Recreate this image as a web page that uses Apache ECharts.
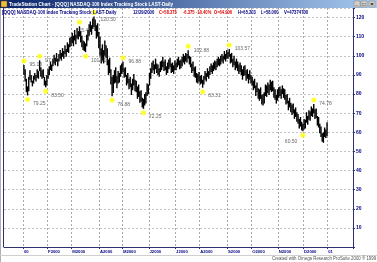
<!DOCTYPE html>
<html><head><meta charset="utf-8">
<script src="https://cdn.jsdelivr.net/npm/echarts@6/dist/echarts.min.js"></script>
<style>html,body{margin:0;padding:0;background:#fff;overflow:hidden}#c{width:377px;height:262px}</style>
</head><body><div id="c"></div><script>
// ---- data (QQQ daily, 2000): highs and lows per session ----
const highs = [
// Jan
95.13,93,88,84,89,92.5,90,87,89.5,91,90,93,92,97.63,94,92.5,93,89,87,90,
// Feb
93,94.5,97,95.5,98.5,100.5,99,101.5,98.5,101,103,101.5,104,102.5,105.5,103.5,107,106,109.5,110,
// Mar
112,110.5,113.5,111,114.5,113,115.41,113,110.5,108,107.5,106.5,111,113.5,116.5,118,116,119.5,120.5,119,116,117,112.5,
// Apr
110,104,106,103,108,105.5,104,98,99,93,89,90,92.5,94,89.5,92,91,95,96,
// May
96.88,93.5,94,90,91,88,89,85.5,88,90.5,87.5,87,84,85,81.5,82,78,77.5,80,81,85.5,85,
// Jun
91,93.5,96.5,97.5,95.5,98.5,96,95.5,93.5,97,97.5,99.5,97,98,94.5,96.5,98,99,96,96.5,95,97.5,
// Jul
96.5,98.5,99.5,97.5,98,99.5,101,100,101.5,101,102.88,100,99.5,96,97,94,94.5,91,90.5,91.5,
// Aug
89.5,90,87.5,89.5,92,91,93.5,92,94.5,96,95,96.5,97.5,97,98.5,99.5,98.5,100,101,100,102.5,101,103,
// Sep
102,103.57,101,101.5,98.5,100,97,98.5,97,95.5,96.5,95,93,94.5,95,92.5,93,90.5,92.5,90,
// Oct
89,87,88,84.5,86,83,82.5,83.5,79.5,80,81,85,84.5,86,85,87.5,86.5,87,83.5,82.5,79.5,82.5,
// Nov
83.5,84,82.5,84.5,83,82.5,79.5,80,76.5,78,75.5,74.5,75,72,73,70.5,69.5,67,68,65.5,64.5,
// Dec
67,66.5,70.5,68.5,71.5,71,73.5,72.5,74.78,72,72.5,68.5,68,64.5,63,59.5,60,62.5,61.5,65.203
];
const lows = [
90,86.5,81,79.25,81.5,87.5,86,84,85.5,87.5,86.5,88.5,88,92,89,88,88.5,84.5,83.5,84.5,
88,90,92.5,92,94.5,96,95,97,94.5,97,98.5,97.5,99.5,98.5,101,99.5,102,101.5,104.5,105,
106.5,105,108,106,109,108.5,110,107,104.5,103,102.5,101.91,105,108,110.5,112.5,111,114,115,113,109,110,104,
100,96,97.5,96,100,99,95,90,91,85,78.88,80.5,85.5,86,83,85.5,86,89,90.5,
91.5,88.5,89,84.5,85.5,82.5,83.5,79.5,82,84.5,81.5,81,77.5,78.5,75.5,76,73,72.25,74,75,79,80,
84.5,88,91,92.5,90.5,93,91,90,89,91.5,92.5,94,92,92.5,90,91,93,94,91,91.5,90.5,92.5,
92.5,94,95,93,93.5,94.5,96.5,95.5,97,96.5,98.5,95.5,94,91,92,89,88.5,86,85.5,86.5,
85,85.5,83.31,85,87.5,86.5,89,88,90,91.5,90.5,92,93,92.5,94,95,94.5,95.5,97,96,98,97,98.5,
98.5,99.5,96,96.5,94,95,92.5,93.5,92,90.5,91.5,90,87.5,89.5,90,87,88,85.5,87.5,85.5,
84.5,82,83,79,81,77.5,76.5,77.5,74.5,74,75,79,78.5,80.5,79.5,82,81,81.5,78,77,75,76.5,
78,79,77.5,80,78,77,74.5,75,71.5,73,70.5,69,70,67,68,65.5,64.5,62,63,61,60.5,
61.5,62,65,64,66.5,66,68.5,68,70,67,67.5,63.5,62.5,59.5,57.5,55,54.5,57.5,57,58
];
// swing points
const pivotDays  = [0,3,13,18,46,51,58,73,82,99,136,148,170,231,240];
const pivotKinds = ['H','L','H','L','H','L','H','L','H','L','H','L','H','L','H'];
const pivotText  = ['95.13','79.25','97.63','83.50','115.41','101.91','120.50','78.88','96.88','72.25','102.88','83.31','103.57','60.50','74.78'];
// month ticks (trading-day index of first session) and labels
const tickDays   = [0,20,40,63,82,104,126,146,169,189,211,232,252];
const tickLabels = ['00','F2000','M2000','A2000','M2000','J2000','J2000','A2000','S2000','O2000','N2000','D2000','01'];
const yTicks = [10,20,30,40,50,60,70,80,90,100,110,120];

// ---- layout constants ----
const LEAD = 16, TOTAL = 289;
const categories = Array.from({length: TOTAL}, (_, i) => String(i));
const tickMap = {};
tickDays.forEach((d, k) => { tickMap[LEAD + d] = tickLabels[k]; });
const isTick = (i) => tickMap[i] !== undefined;

// label placement tweaks (styling only)
const labelPlace = {
  '60.50':  { position: 'left',   offset: [0, 6] },
  '115.41': { position: 'bottom', offset: [4, 0] },
  '120.50': { position: 'right',  offset: [1, 7] }
};

const bars = highs.map((h, i) => [LEAD + i, h, lows[i]]);
const pivots = pivotDays.map((d, k) => {
  const hi = pivotKinds[k] === 'H';
  const pl = labelPlace[pivotText[k]] || { position: 'right', offset: [0, 4] };
  return {
    value: [LEAD + d, hi ? highs[d] : lows[d]],
    symbolOffset: [0, hi ? -4 : 4],
    label: { show: true, formatter: pivotText[k], position: pl.position, distance: 3, offset: pl.offset }
  };
});

const NAVY = '#000080', RED = '#e00000';
const F = '"Liberation Sans", Arial, sans-serif';
function T(x, y, text, fill, size, bold, sx) {
  return { type: 'text', x: x, y: y, scaleX: sx || 1, z: 100,
    style: { text: text, fill: fill, fontSize: size, fontFamily: F, fontWeight: bold ? 'bold' : 'normal', verticalAlign: 'middle', align: 'left' } };
}

const chart = echarts.init(document.getElementById('c'), null, {renderer: 'canvas'});
chart.setOption({
  animation: false,
  backgroundColor: '#ffffff',
  grid: { left: 4, right: 24, top: 8, bottom: 15, containLabel: false },
  xAxis: {
    type: 'category', data: categories, boundaryGap: true,
    axisLine: { show: true, lineStyle: { color: '#303070', width: 1 } },
    axisTick: { show: true, interval: (i) => isTick(i), length: 2, lineStyle: { color: '#303070' } },
    axisLabel: { interval: (i) => isTick(i), formatter: (v, i) => tickMap[i] || '', align: 'left',
      fontSize: 4.2, fontWeight: 'bold', color: NAVY, fontFamily: F, margin: 3 },
    splitLine: { show: true, interval: (i) => isTick(i), lineStyle: { color: '#a8a8a8', type: [2, 2], width: 1 } }
  },
  yAxis: {
    type: 'value', position: 'right', min: 0, max: 125, interval: 10,
    axisLine: { show: true, lineStyle: { color: '#303070', width: 1 } },
    axisTick: { show: true, length: 2, lineStyle: { color: '#303070' } },
    axisLabel: { fontSize: 5, fontWeight: 'bold', color: NAVY, fontFamily: F, margin: 3,
      formatter: (v) => yTicks.indexOf(v) >= 0 ? String(v) : '' },
    splitLine: { show: true, lineStyle: { color: '#c4c4c4', type: [2, 2], width: 1 } }
  },
  series: [
    {
      type: 'custom', z: 2,
      encode: { x: 0, y: [1, 2] },
      data: bars,
      renderItem: (params, api) => {
        const x = api.value(0);
        const top = api.coord([x, api.value(1)]);
        const bot = api.coord([x, api.value(2)]);
        return { type: 'rect', shape: { x: top[0] - 0.7, y: top[1], width: 1.4, height: bot[1] - top[1] },
          style: { fill: '#000000' } };
      }
    },
    {
      type: 'scatter', z: 5, symbol: 'circle', symbolSize: 5,
      itemStyle: { color: '#ffff00' },
      label: { color: '#404040', fontSize: 5, fontFamily: F },
      data: pivots
    }
  ],
  graphic: [
    // title bar
    { type: 'rect', x: 0, y: 0, z: 90, shape: { width: 377, height: 8 },
      style: { fill: new echarts.graphic.LinearGradient(0, 0, 1, 0, [{offset: 0, color: '#0a246a'}, {offset: 1, color: '#a6caf0'}]) } },
    { type: 'rect', x: 1, y: 1, z: 95, shape: { width: 6, height: 6 }, style: { fill: '#e8c040', stroke: '#804000', lineWidth: 0.5 } },
    T(9, 4.2, 'TradeStation Chart - [QQQ] NASDAQ-100 Index Tracking Stock LAST-Daily', '#ffffff', 5, true, 0.93),
    { type: 'rect', x: 354, y: 1, z: 95, shape: { width: 6, height: 6 }, style: { fill: '#d4d0c8', stroke: '#808080', lineWidth: 0.5 } },
    { type: 'rect', x: 361, y: 1, z: 95, shape: { width: 6, height: 6 }, style: { fill: '#d4d0c8', stroke: '#808080', lineWidth: 0.5 } },
    { type: 'rect', x: 369, y: 1, z: 95, shape: { width: 6, height: 6 }, style: { fill: '#d4d0c8', stroke: '#808080', lineWidth: 0.5 } },
    T(355, 3.6, '_', '#000', 5, true),
    T(362.2, 4.2, '□', '#000', 5, false),
    T(370.2, 4.2, '×', '#000', 6, true),
    // header line
    T(2, 13, '[QQQ] NASDAQ-100 Index Tracking Stock LAST-Daily', NAVY, 5, true, 0.9),
    T(133, 13, '12/29/2000', NAVY, 5, true, 0.85),
    T(159, 13, 'C=58.375', RED, 5, true, 0.82),
    T(183, 13, '-6.375', RED, 5, true, 0.82),
    T(196, 13, '-10.40%', RED, 5, true, 0.82),
    T(214, 13, 'O=64.906', RED, 5, true, 0.82),
    T(238, 13, 'H=65.203', NAVY, 5, true, 0.82),
    T(261, 13, 'L=58.000', NAVY, 5, true, 0.82),
    T(284, 13, 'V=47374700', NAVY, 5, true, 0.85),
    // frame
    { type: 'line', z: 80, shape: { x1: 3.5, y1: 8, x2: 3.5, y2: 247 }, style: { stroke: '#303070', lineWidth: 1 } },
    { type: 'line', z: 80, shape: { x1: 0.5, y1: 8, x2: 0.5, y2: 262 }, style: { stroke: '#b0b0b0', lineWidth: 1 } },
    { type: 'line', z: 80, shape: { x1: 0, y1: 255.5, x2: 377, y2: 255.5 }, style: { stroke: '#d0d0d0', lineWidth: 1 } },
    T(272, 259, 'Created with Omega Research ProSuite 2000 \u00ae 1999', '#505050', 4.6, false, 0.95)
  ]
});
</script></body></html>
